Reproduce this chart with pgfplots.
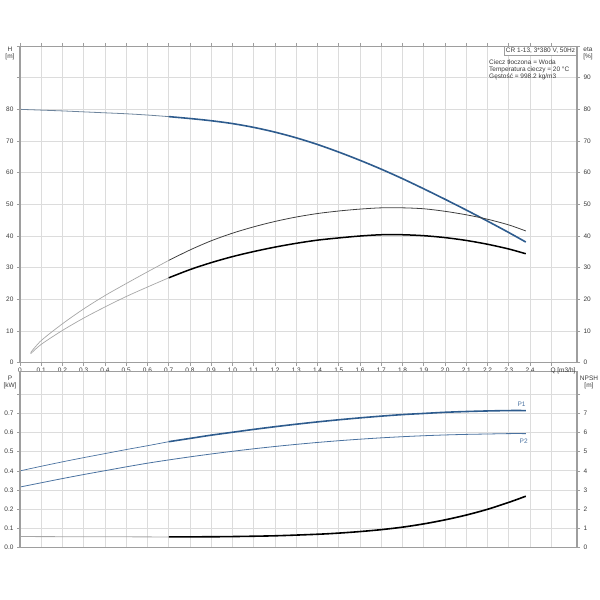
\documentclass[border=0pt]{standalone}
\usepackage{pgfplots}
\pgfplotsset{compat=1.18}
\usepackage{fontspec}
\setmainfont{Liberation Sans}
\definecolor{pblue}{HTML}{2E5C8E}
\definecolor{pblue2}{HTML}{4A72A0}
\definecolor{lead}{HTML}{8A96A4}
\definecolor{txt}{HTML}{3A3A3A}
\definecolor{gridc}{HTML}{DCDCDC}
\definecolor{spine}{HTML}{9E9E9E}
\newcommand{\tf}{\fontsize{6.5}{6.9}\selectfont}
\pgfplotsset{
  base/.style={
    scale only axis, width=557pt, xmin=0, xmax=2.621,
    /pgf/number format/assume math mode=true,
    tick label style={font=\tf, text=txt},
    every tick/.style={draw=spine, line width=0.6pt},
    major tick length=3pt, tick align=outside,
    grid=major, major grid style={draw=gridc, line width=0.75pt},
    axis line style={draw=spine, line width=0.9pt},
    xtick={0,0.1,0.2,0.3,0.4,0.5,0.6,0.7,0.8,0.9,1.0,1.1,1.2,1.3,1.4,1.5,1.6,1.7,1.8,1.9,2.0,2.1,2.2,2.3,2.4,2.5},
    clip=false,
  },
  over/.style={
    scale only axis, width=557pt, xmin=0, xmax=2.621,
    /pgf/number format/assume math mode=true,
    tick label style={font=\tf, text=txt},
    every tick/.style={draw=spine, line width=0.6pt},
    major tick length=3pt, tick align=outside,
    axis x line=none, axis y line*=right,
    axis line style={draw=spine, line width=1.4pt},
  },
}
\begin{document}
\begin{tikzpicture}
\useasboundingbox (0pt,0pt) rectangle (600pt,600pt);
% ---------- top panel ----------
\begin{axis}[base, name=top, at={(20pt,237.3pt)}, anchor=south west,
  height=316.7pt, ymin=0, ymax=100,
  ytick={0,10,20,30,40,50,60,70,80,90,100},
  yticklabels={0,10,20,30,40,50,60,70,80,,},
  xticklabels={0,0.1,0.2,0.3,0.4,0.5,0.6,0.7,0.8,0.9,1.0,1.1,1.2,1.3,1.4,1.5,1.6,1.7,1.8,1.9,2.0,2.1,2.2,2.3,2.4,},
  xticklabel style={yshift=1pt},
]
% H lead
\addplot[lead!70!pblue, line width=0.8pt, smooth] coordinates {
(0,80.0)(0.1,79.75)(0.2,79.5)(0.3,79.2)(0.4,78.9)(0.5,78.6)(0.6,78.2)(0.7,77.7)};
% H
\addplot[pblue, line width=1.6pt, smooth] coordinates {
(0.7,77.7)(0.8,77.1)(0.9,76.4)(1.0,75.5)(1.1,74.3)(1.2,72.8)(1.3,71.0)(1.4,68.9)(1.5,66.5)(1.6,63.9)(1.7,61.1)(1.8,58.1)(1.9,54.9)(2.0,51.6)(2.1,48.2)(2.2,44.7)(2.3,41.1)(2.38,38.1)};
% eta upper lead
\addplot[gray!70, line width=0.7pt, smooth] coordinates {
(0.05,3.2)(0.1,7.0)(0.2,12.3)(0.3,17.0)(0.4,21.2)(0.5,25.0)(0.6,28.7)(0.7,32.3)};
% eta upper
\addplot[black!75, line width=0.8pt, smooth] coordinates {
(0.7,32.3)(0.8,35.6)(0.9,38.5)(1.0,40.9)(1.1,42.9)(1.2,44.6)(1.3,46.0)(1.4,47.1)(1.5,47.9)(1.6,48.5)(1.7,48.9)(1.8,48.9)(1.9,48.6)(2.0,47.8)(2.1,46.7)(2.2,45.3)(2.3,43.5)(2.38,41.6)};
% eta lower lead
\addplot[gray!70, line width=0.7pt, smooth] coordinates {
(0.05,2.8)(0.1,5.8)(0.2,10.2)(0.3,14.1)(0.4,17.6)(0.5,20.9)(0.6,23.9)(0.7,26.8)};
% eta lower
\addplot[black, line width=1.5pt, smooth] coordinates {
(0.7,26.8)(0.8,29.4)(0.9,31.6)(1.0,33.5)(1.1,35.1)(1.2,36.5)(1.3,37.7)(1.4,38.7)(1.5,39.4)(1.6,40.0)(1.7,40.4)(1.8,40.4)(1.9,40.1)(2.0,39.5)(2.1,38.6)(2.2,37.4)(2.3,35.9)(2.38,34.4)};
\end{axis}
\begin{axis}[over, at={(20pt,237.3pt)}, anchor=south west,
  height=316.7pt, ymin=0, ymax=100, ytick={0,10,20,30,40,50,60,70,80,90}]
\end{axis}
% ---------- bottom panel ----------
\begin{axis}[base, name=bot, at={(20pt,52.3pt)}, anchor=south west,
  height=176.7pt, ymin=0, ymax=0.92,
  ytick={0,0.1,0.2,0.3,0.4,0.5,0.6,0.7,0.8},
  yticklabels={0.0,0.1,0.2,0.3,0.4,0.5,0.6,0.7,},
  xticklabels={}, xtick style={draw=none},
]
% P1 lead
\addplot[pblue2, line width=0.7pt, smooth] coordinates {
(0,0.400)(0.1,0.424)(0.2,0.447)(0.3,0.469)(0.4,0.490)(0.5,0.511)(0.6,0.531)(0.7,0.552)};
% P1
\addplot[pblue, line width=1.6pt, smooth] coordinates {
(0.7,0.552)(0.8,0.569)(0.9,0.586)(1.0,0.601)(1.1,0.616)(1.2,0.630)(1.3,0.643)(1.4,0.655)(1.5,0.666)(1.6,0.676)(1.7,0.685)(1.8,0.693)(1.9,0.699)(2.0,0.705)(2.1,0.709)(2.2,0.712)(2.3,0.714)(2.38,0.714)};
% P2
\addplot[pblue2, line width=0.8pt, smooth] coordinates {
(0,0.316)(0.1,0.338)(0.2,0.360)(0.3,0.381)(0.4,0.401)(0.5,0.421)(0.6,0.440)(0.7,0.457)(0.8,0.473)(0.9,0.488)(1.0,0.502)(1.1,0.515)(1.2,0.527)(1.3,0.538)(1.4,0.548)(1.5,0.557)(1.6,0.565)(1.7,0.572)(1.8,0.578)(1.9,0.583)(2.0,0.587)(2.1,0.590)(2.2,0.592)(2.3,0.594)(2.38,0.594)};
% NPSH lead
\addplot[gray!70, line width=0.8pt] coordinates {
(0,0.058)(0.35,0.057)(0.7,0.056)};
% NPSH
\addplot[black, line width=1.6pt, smooth] coordinates {
(0.7,0.056)(0.9,0.057)(1.0,0.058)(1.2,0.062)(1.4,0.070)(1.5,0.076)(1.6,0.084)(1.7,0.094)(1.8,0.107)(1.9,0.124)(2.0,0.145)(2.1,0.170)(2.2,0.200)(2.3,0.236)(2.38,0.268)};
\node[font=\tf, text=pblue2, anchor=south] at (axis cs:2.36,0.718) {P1};
\node[font=\tf, text=pblue2, anchor=north] at (axis cs:2.37,0.585) {P2};
\end{axis}
\begin{axis}[over, at={(20pt,52.3pt)}, anchor=south west,
  height=176.7pt, ymin=0, ymax=9.2, ytick={0,1,2,3,4,5,6,7}]
\end{axis}
% thicker left spines
\draw[spine, line width=1.8pt] (top.south west) -- (top.north west);
\draw[spine, line width=1.8pt] (bot.south west) -- (bot.north west);
% axis titles
\node[font=\tf, text=txt, align=center, anchor=north, inner sep=0] at (10pt,553pt) {H\\{[m]}};
\node[font=\tf, text=txt, align=center, anchor=north, inner sep=0] at (588pt,553pt) {eta\\{[\%]}};
\node[font=\tf, text=txt, align=center, anchor=north, inner sep=0] at (10pt,224pt) {P\\{[kW]}};
\node[font=\tf, text=txt, align=center, anchor=north, inner sep=0] at (589pt,224pt) {NPSH\\{[m]}};
\node[font=\tf, text=txt, anchor=north, inner sep=0] at (563pt,232.5pt) {Q [m3/h]};
% info box
\node[draw=spine, line width=0.6pt, fill=white, font=\tf, text=txt, anchor=north east, inner sep=1.6pt] at (top.north east) {CR 1-13, 3*380 V, 50Hz};
\node[font=\tf, text=txt, align=left, anchor=north west, inner sep=0] at (489pt,540pt) {Ciecz tłoczona = Woda\\Temperatura cieczy = 20 °C\\Gęstość = 998.2 kg/m3};
\end{tikzpicture}
\end{document}
